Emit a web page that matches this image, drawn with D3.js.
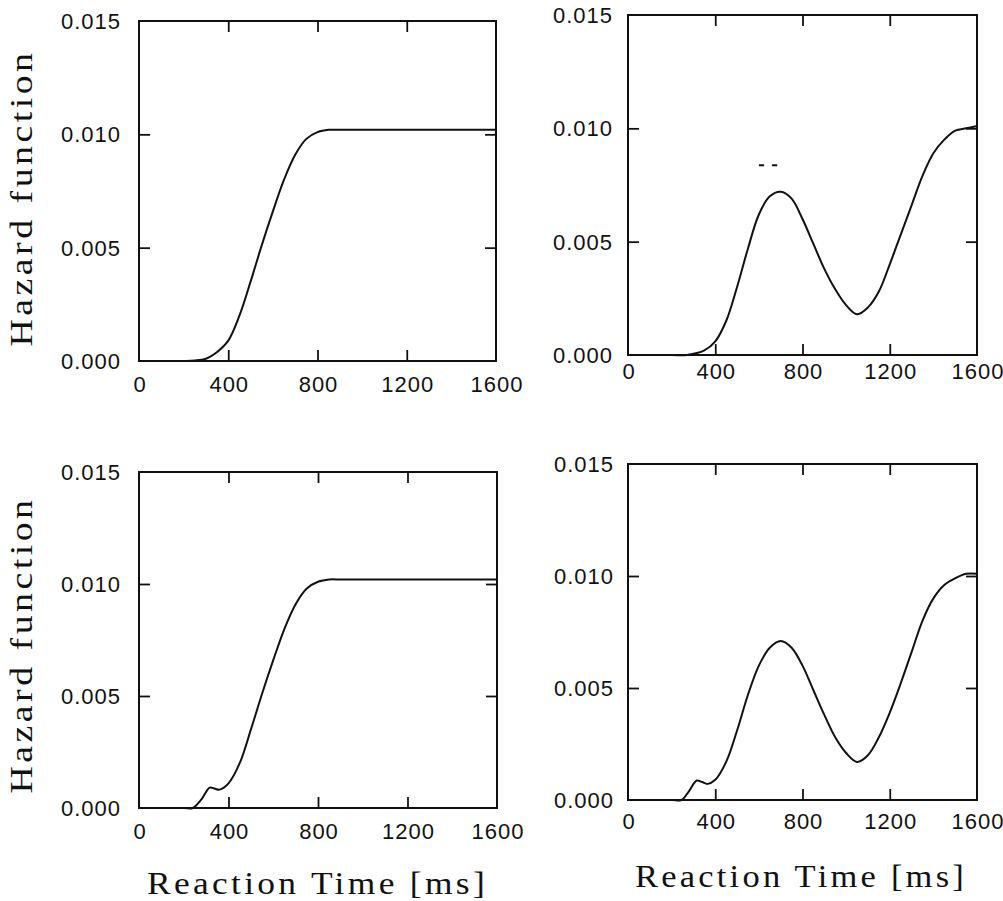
<!DOCTYPE html>
<html lang="en">
<head>
	<meta charset="utf-8">
	<title>Hazard function</title>
	<script src="https://cdnjs.cloudflare.com/ajax/libs/d3/7.8.5/d3.min.js"></script>
	<style>
	body {
		margin: 0;
		background-color: #fff;
	}
	.tick-label {
		font-family: "Liberation Sans", Arial, sans-serif;
		font-size: 22px;
		letter-spacing: 1px;
		fill: #111;
	}
	.title {
		font-family: "Liberation Serif", "Times New Roman", serif;
		letter-spacing: 3px;
		fill: #111;
	}
	</style>
</head>
<body>
	<svg id="chart" width="1003" height="901"></svg>
	<script>
	// reaction time (ms) and hazard values
	var rtTopLeft = [0, 100, 200, 250, 300, 350, 400, 450, 500, 550, 600, 650, 700, 750, 800, 850, 900, 1000, 1200, 1400, 1600];
	var hzTopLeft = [0, 0, 0, 0.00002, 0.0001, 0.0004, 0.0009, 0.0020, 0.0035, 0.0051, 0.0066, 0.0080, 0.0091, 0.0098, 0.0101, 0.0102, 0.0102, 0.0102, 0.0102, 0.0102, 0.0102];

	var rtTopRight = [0, 200, 270, 350, 400, 450, 500, 550, 600, 650, 700, 750, 800, 850, 900, 950, 1000, 1050, 1100, 1150, 1200, 1250, 1300, 1350, 1400, 1450, 1500, 1550, 1600];
	var hzTopRight = [0, 0, 0, 0.0002, 0.0006, 0.0015, 0.0030, 0.0047, 0.0062, 0.0070, 0.0072, 0.0069, 0.0060, 0.0049, 0.0038, 0.0029, 0.0022, 0.0018, 0.0021, 0.0028, 0.0040, 0.0053, 0.0066, 0.0079, 0.0089, 0.0095, 0.0099, 0.0100, 0.0101];

	var rtBottomLeft = [0, 200, 240, 280, 316, 340, 360, 400, 450, 500, 550, 600, 650, 700, 750, 800, 850, 900, 1000, 1200, 1400, 1600];
	var hzBottomLeft = [0, 0, 0, 0.0004, 0.00091, 0.00086, 0.00082, 0.0011, 0.0020, 0.0035, 0.0051, 0.0066, 0.0080, 0.0091, 0.0098, 0.0101, 0.0102, 0.0102, 0.0102, 0.0102, 0.0102, 0.0102];

	var rtBottomRight = [0, 200, 245, 280, 315, 340, 365, 400, 450, 500, 550, 600, 650, 700, 750, 800, 850, 900, 950, 1000, 1050, 1100, 1150, 1200, 1250, 1300, 1350, 1400, 1450, 1500, 1550, 1600];
	var hzBottomRight = [0, 0, 0, 0.0004, 0.00087, 0.0008, 0.00072, 0.0009, 0.0017, 0.0031, 0.0047, 0.0060, 0.0068, 0.0071, 0.0068, 0.0060, 0.0049, 0.0038, 0.0028, 0.0021, 0.0017, 0.0020, 0.0028, 0.0039, 0.0052, 0.0066, 0.0080, 0.0090, 0.0096, 0.0099, 0.0101, 0.0101];

	// the little "- -" mark above the peak in the top right panel
	var dashMarks = [[600, 624], [660, 684]];
	var dashLevel = 0.00837;

	var xTicks = [0, 400, 800, 1200, 1600];
	var yTicks = [0, 0.005, 0.010, 0.015];
	var yLabel = 'Hazard function';
	var xLabel = 'Reaction Time [ms]';

	var svg = d3.select('#chart');

	var panels = [
		{x0: 139, x1: 496, top: 21, bottom: 361, rt: rtTopLeft, hz: hzTopLeft, xlab: 31, ylab: 18, yTitle: 198},
		{x0: 628, x1: 977, top: 15, bottom: 355, rt: rtTopRight, hz: hzTopRight, xlab: 24, ylab: 15, marks: true},
		{x0: 139, x1: 497, top: 472, bottom: 808, rt: rtBottomLeft, hz: hzBottomLeft, xlab: 31, ylab: 18, yTitle: 645, xTitle: [147, 488, 894]},
		{x0: 628, x1: 977, top: 464, bottom: 800, rt: rtBottomRight, hz: hzBottomRight, xlab: 29, ylab: 14, xTitle: [635, 967, 887]}
	];

	panels.forEach(function(p) {
		var x = d3.scaleLinear().domain([0, 1600]).range([p.x0, p.x1]);
		var y = d3.scaleLinear().domain([0, 0.015]).range([p.bottom, p.top]);
		var g = svg.append('g');

		// frame
		g.append('rect')
			.attr('x', p.x0).attr('y', p.top)
			.attr('width', p.x1 - p.x0).attr('height', p.bottom - p.top)
			.attr('fill', 'none').attr('stroke', '#111').attr('stroke-width', 2);

		// inward ticks on all four sides
		var inner = [400, 800, 1200];
		var innerY = [0.005, 0.010];
		g.append('g').attr('transform', 'translate(0,' + p.bottom + ')')
			.call(d3.axisBottom(x).tickValues(inner).tickSize(-11).tickFormat(''));
		g.append('g').attr('transform', 'translate(0,' + p.top + ')')
			.call(d3.axisTop(x).tickValues(inner).tickSize(-11).tickFormat(''));
		g.append('g').attr('transform', 'translate(' + p.x0 + ',0)')
			.call(d3.axisLeft(y).tickValues(innerY).tickSize(-11).tickFormat(''));
		g.append('g').attr('transform', 'translate(' + p.x1 + ',0)')
			.call(d3.axisRight(y).tickValues(innerY).tickSize(-11).tickFormat(''));
		g.selectAll('.domain').remove();
		g.selectAll('.tick line').attr('stroke', '#111').attr('stroke-width', 1.8);

		// tick labels
		g.selectAll('.xl').data(xTicks).enter().append('text')
			.attr('class', 'tick-label')
			.attr('x', function(d) { return x(d) + 1; })
			.attr('y', p.bottom + p.xlab)
			.attr('text-anchor', 'middle')
			.text(function(d) { return d; });
		g.selectAll('.yl').data(yTicks).enter().append('text')
			.attr('class', 'tick-label')
			.attr('x', p.x0 - p.ylab)
			.attr('y', function(d) { return y(d); })
			.attr('dy', '0.36em')
			.attr('text-anchor', 'end')
			.text(function(d) { return d3.format('.3f')(d); });

		// hazard curve
		var line = d3.line()
			.x(function(d) { return x(d[0]); })
			.y(function(d) { return y(d[1]); })
			.curve(d3.curveCatmullRom.alpha(0.5));
		g.append('path')
			.datum(d3.zip(p.rt, p.hz))
			.attr('d', line)
			.attr('fill', 'none')
			.attr('stroke', '#111')
			.attr('stroke-width', 2);

		if (p.marks) {
			g.selectAll('.mark').data(dashMarks).enter().append('line')
				.attr('x1', function(d) { return x(d[0]); })
				.attr('x2', function(d) { return x(d[1]); })
				.attr('y1', y(dashLevel)).attr('y2', y(dashLevel))
				.attr('stroke', '#111').attr('stroke-width', 2);
		}

		if (p.yTitle) {
			g.append('text')
				.attr('class', 'title')
				.attr('transform', 'translate(32,' + p.yTitle + ') rotate(-90)')
				.attr('text-anchor', 'middle')
				.attr('font-size', 32)
				.attr('textLength', 297)
				.attr('lengthAdjust', 'spacingAndGlyphs')
				.text(yLabel);
		}
		if (p.xTitle) {
			g.append('text')
				.attr('class', 'title')
				.attr('x', p.xTitle[0])
				.attr('y', p.xTitle[2])
				.attr('font-size', 32)
				.attr('textLength', p.xTitle[1] - p.xTitle[0])
				.attr('lengthAdjust', 'spacingAndGlyphs')
				.text(xLabel);
		}
	});
	</script>
</body>
</html>
